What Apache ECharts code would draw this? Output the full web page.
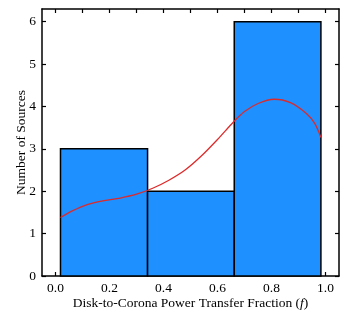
<!DOCTYPE html>
<html><head><meta charset="utf-8">
<script src="https://cdn.jsdelivr.net/npm/echarts@6/dist/echarts.min.js"></script>
<style>html,body{margin:0;padding:0;background:#fff}#c{width:350px;height:315px}</style>
</head><body><div id="c"></div>
<script>
// Histogram bins
var binStarts = [0.0185, 0.341, 0.662];
var binEnds   = [0.341, 0.662, 0.983];
var binCounts = [3, 2, 6];
// KDE curve (scaled)
var curveX = [0.0185, 0.06, 0.12, 0.18, 0.24, 0.30, 0.36, 0.42, 0.48, 0.54, 0.60, 0.66, 0.70, 0.75, 0.81, 0.87, 0.93, 0.96, 0.983];
var curveY = [1.38, 1.53, 1.69, 1.78, 1.84, 1.93, 2.07, 2.26, 2.50, 2.83, 3.22, 3.64, 3.88, 4.07, 4.17, 4.09, 3.83, 3.60, 3.27];
// Ticks
var xTicks = [0, 0.1, 0.2, 0.3, 0.4, 0.5, 0.6, 0.7, 0.8, 0.9, 1.0];
var xLabels = [0, 0.2, 0.4, 0.6, 0.8, 1.0];
var yTicks = [0, 1, 2, 3, 4, 5, 6];

var FONT = 'Liberation Serif';
var FS = 13.5;
var chart = echarts.init(document.getElementById('c'), null, {renderer: 'canvas'});
var histData = binCounts.map(function (c, i) { return [binStarts[i], binEnds[i], c]; });
var lineData = curveX.map(function (x, i) { return [x, curveY[i]]; });

function xAx(pos, showLabel, name) {
  return {
    type: 'value', position: pos, min: -0.05, max: 1.05,
    name: name || '', nameLocation: 'middle', nameGap: 20, nameMoveOverlap: false,
    nameTextStyle: {fontFamily: FONT, fontSize: FS, color: '#000',
      rich: {i: {fontFamily: FONT, fontSize: FS, fontStyle: 'italic', color: '#000'}}},
    axisLine: {show: true, onZero: false, lineStyle: {color: '#000', width: 1.5}},
    axisTick: {show: true, inside: true, length: 4, customValues: xTicks, lineStyle: {color: '#000', width: 1.2}},
    axisLabel: {show: showLabel, customValues: xLabels, margin: 5, fontFamily: FONT, fontSize: FS, color: '#000',
      formatter: function (v) { return v.toFixed(1); }},
    splitLine: {show: false}
  };
}
function yAx(pos, showLabel, name) {
  return {
    type: 'value', position: pos, min: 0, max: 6.3,
    name: name || '', nameLocation: 'middle', nameGap: 14, nameMoveOverlap: false,
    nameTextStyle: {fontFamily: FONT, fontSize: FS, color: '#000'},
    axisLine: {show: true, onZero: false, lineStyle: {color: '#000', width: 1.5}},
    axisTick: {show: true, inside: true, length: 4, customValues: yTicks, lineStyle: {color: '#000', width: 1.2}},
    axisLabel: {show: showLabel, customValues: yTicks, margin: 6, fontFamily: FONT, fontSize: FS, color: '#000'},
    splitLine: {show: false}
  };
}

chart.setOption({
  animation: false,
  grid: {left: 42, right: 11, top: 9, bottom: 38},
  xAxis: [xAx('bottom', true, 'Disk-to-Corona Power Transfer Fraction ({i|f})'), xAx('top', false)],
  yAxis: [yAx('left', true, 'Number of Sources'), yAx('right', false)],
  series: [{
    type: 'custom',
    data: histData,
    encode: {x: [0, 1], y: 2},
    renderItem: function (params, api) {
      var p0 = api.coord([api.value(0), api.value(2)]);
      var p1 = api.coord([api.value(1), 0]);
      return {
        type: 'rect',
        shape: {x: p0[0], y: p0[1], width: p1[0] - p0[0], height: p1[1] - p0[1]},
        style: {fill: '#1e90ff', stroke: '#000', lineWidth: 1.5}
      };
    }
  }, {
    type: 'line',
    data: lineData,
    smooth: 0.3,
    symbol: 'none',
    z: 5,
    lineStyle: {color: '#dd2a2a', width: 1.3}
  }]
});
</script></body></html>
